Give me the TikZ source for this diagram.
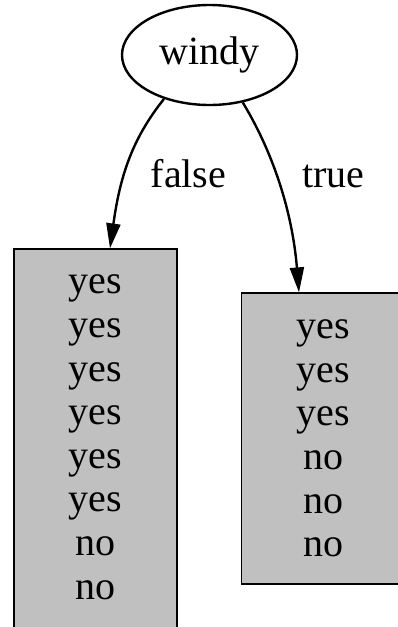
\documentclass[tikz,border=0pt]{standalone}
\usepackage{fontspec}
\setmainfont{Liberation Serif}
\usepackage{xcolor}
\usepackage{tikz}
\usetikzlibrary{shapes.geometric, arrows.meta, positioning}
\definecolor{leafgray}{RGB}{192,192,192}

\begin{document}
\begin{tikzpicture}[
  x=1pt, y=1pt,
  every node/.style={font=\fontsize{40}{43.6}\selectfont},
  splitnode/.style={ellipse, draw=black, line width=2.4pt, inner sep=0pt,
                    minimum width=175pt, minimum height=100pt},
  leafbox/.style={rectangle, draw=black, line width=1.2pt, fill=leafgray,
                  inner sep=0pt, align=center, minimum width=163pt},
  edgelabel/.style={anchor=base, inner sep=0pt},
  arrow/.style={-{Triangle[length=25pt, width=14pt]}, line width=2.4pt}
]
\useasboundingbox (0,0) rectangle (397,-627);

\node[splitnode] (windy) at (209.5,-55) {windy};

% left leaf runs past the lower edge of the page
\node[leafbox, minimum height=400pt, text depth=24pt] (leaffalse) at (95.5,-449) {%
  yes\\ yes\\ yes\\ yes\\ yes\\ yes\\ no\\ no};
\node[leafbox, minimum height=291pt] (leaftrue) at (323,-438.5) {%
  yes\\ yes\\ yes\\ no\\ no\\ no};

\node[edgelabel] (lblfalse) at (188.5,-187) {false};
\node[edgelabel] (lbltrue) at (333.5,-187) {true};

\draw[arrow] (windy.224) .. controls +(-32,-40) and +(10,72) .. ([xshift=14.5pt]leaffalse.north);
\draw[arrow] (windy.305) .. controls +(22,-36) and +(-8,95) .. ([xshift=-24pt]leaftrue.north);

\end{tikzpicture}
\end{document}
